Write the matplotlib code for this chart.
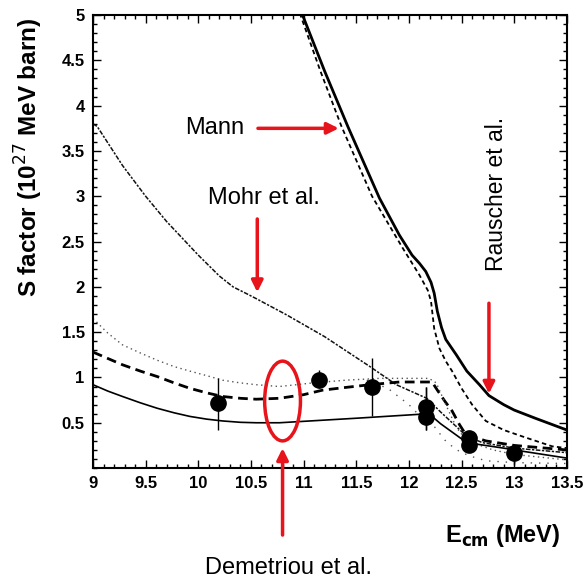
import matplotlib
matplotlib.use("Agg")
import matplotlib.pyplot as plt
from matplotlib.patches import Ellipse
from matplotlib.ticker import MultipleLocator

plt.rcParams["font.family"] = ["Liberation Sans", "DejaVu Sans"]

# ---- theory curves (E in MeV, S in 1e27 MeV barn) ----
rau_e = [10.9, 10.99, 11.2, 11.42, 11.72, 11.91, 12.03, 12.1, 12.16, 12.21, 12.24, 12.27, 12.31, 12.35, 12.45, 12.55, 12.67, 12.76, 12.9, 13.0, 13.2, 13.5]
rau_s = [5.25, 5.0, 4.38, 3.77, 2.98, 2.57, 2.35, 2.26, 2.17, 2.05, 1.93, 1.73, 1.55, 1.42, 1.25, 1.07, 0.92, 0.80, 0.70, 0.64, 0.55, 0.42]

mann_e = [10.88, 10.97, 11.16, 11.36, 11.65, 11.94, 12.10, 12.18, 12.21, 12.24, 12.29, 12.35, 12.41, 12.5, 12.6, 12.73, 12.9, 13.1, 13.36, 13.5]
mann_s = [5.25, 5.0, 4.38, 3.77, 3.0, 2.43, 2.13, 1.96, 1.84, 1.54, 1.32, 1.18, 1.07, 0.88, 0.70, 0.52, 0.42, 0.34, 0.24, 0.22]

mohr_e = [9.0, 9.04, 9.28, 9.5, 9.7, 10.0, 10.2, 10.33, 10.45, 10.55, 10.84, 11.2, 11.63, 11.88, 12.17, 12.3, 12.55, 12.7, 13.0, 13.5]
mohr_s = [3.8, 3.77, 3.34, 3.0, 2.72, 2.35, 2.12, 2.0, 1.93, 1.87, 1.69, 1.45, 1.12, 0.92, 0.77, 0.62, 0.35, 0.28, 0.22, 0.17]

dem_e = [9.0, 9.14, 9.28, 9.45, 9.61, 9.77, 9.92, 10.08, 10.23, 10.4, 10.55, 10.77, 11.0, 11.18, 11.4, 11.63, 11.91, 12.22, 12.27, 12.34, 12.41, 12.48, 12.54, 12.73, 13.0, 13.5]
dem_s = [1.28, 1.21, 1.14, 1.07, 1.01, 0.94, 0.88, 0.83, 0.79, 0.77, 0.76, 0.77, 0.81, 0.86, 0.89, 0.92, 0.95, 0.95, 0.86, 0.74, 0.63, 0.48, 0.37, 0.30, 0.25, 0.20]

dot_e = [9.0, 9.14, 9.28, 9.45, 9.61, 9.77, 9.92, 10.08, 10.23, 10.4, 10.55, 10.77, 11.09, 11.4, 11.72, 12.19, 12.26, 12.35, 12.45, 12.55, 12.8, 13.0, 13.5]
dot_s = [1.65, 1.49, 1.36, 1.27, 1.19, 1.12, 1.07, 1.02, 0.97, 0.94, 0.92, 0.90, 0.94, 0.97, 0.99, 0.99, 0.94, 0.70, 0.45, 0.30, 0.20, 0.15, 0.09]

dot2_e = [11.6, 11.8, 12.0, 12.15, 12.24, 12.34, 12.43, 12.5, 12.64, 12.74, 13.0, 13.5]
dot2_s = [0.97, 0.88, 0.70, 0.52, 0.46, 0.31, 0.22, 0.17, 0.11, 0.08, 0.06, 0.05]

sol_e = [9.0, 9.14, 9.28, 9.45, 9.61, 9.77, 9.92, 10.08, 10.23, 10.4, 10.55, 10.77, 11.5, 12.19, 12.3, 12.55, 12.9, 13.0, 13.5]
sol_s = [0.92, 0.85, 0.79, 0.72, 0.66, 0.61, 0.57, 0.54, 0.52, 0.505, 0.50, 0.50, 0.55, 0.60, 0.49, 0.28, 0.22, 0.20, 0.11]

# ---- data points ----
pt_e = [10.19, 11.15, 11.65, 12.16, 12.16, 12.57, 12.57, 13.0]
pt_s = [0.72, 0.97, 0.89, 0.67, 0.56, 0.33, 0.26, 0.17]
pt_lo = [0.42, 0.88, 0.57, 0.42, 0.42, 0.20, 0.20, 0.03]
pt_hi = [0.99, 1.08, 1.21, 0.90, 0.90, 0.38, 0.38, 0.20]

fig = plt.figure(figsize=(5.85, 5.80), dpi=100)
ax = fig.add_axes([0.159, 0.193, 0.81, 0.781])

ax.plot(rau_e, rau_s, color="black", lw=2.0)
ax.plot(mann_e, mann_s, color="black", lw=1.3, ls=(0, (2.5, 1.8)))
ax.plot(mohr_e, mohr_s, color="#111111", lw=1.1, ls=(0, (3, 1, 1.5, 1)))
ax.plot(dem_e, dem_s, color="black", lw=2.0, ls=(0, (3.5, 2)))
ax.plot(dot_e, dot_s, color="#555555", lw=1.0, ls=(0, (1, 2.5)))
ax.plot(dot2_e, dot2_s, color="#555555", lw=1.0, ls=(0, (1, 5)))
ax.plot(sol_e, sol_s, color="black", lw=1.2)

err_lo = [s - lo for s, lo in zip(pt_s, pt_lo)]
err_hi = [hi - s for s, hi in zip(pt_s, pt_hi)]
ax.errorbar(pt_e, pt_s, yerr=[err_lo, err_hi], fmt="o", color="black",
            ms=11, elinewidth=1.0, capsize=0, zorder=5)

ax.set_xlim(9, 13.5)
ax.set_ylim(0, 5)
ax.xaxis.set_minor_locator(MultipleLocator(0.1))
ax.yaxis.set_minor_locator(MultipleLocator(0.1))
ax.set_yticks([0.5, 1, 1.5, 2, 2.5, 3, 3.5, 4, 4.5, 5])
ax.set_yticklabels(["0.5", "1", "1.5", "2", "2.5", "3", "3.5", "4", "4.5", "5"])
ax.set_xticks([9, 9.5, 10, 10.5, 11, 11.5, 12, 12.5, 13, 13.5])
ax.set_xticklabels(["9", "9.5", "10", "10.5", "11", "11.5", "12", "12.5", "13", "13.5"])
ax.tick_params(which="both", direction="in", top=True, right=True, width=1.0)
ax.tick_params(which="major", length=6, labelsize=12, pad=6)
ax.tick_params(which="minor", length=3)
for lbl in ax.get_xticklabels() + ax.get_yticklabels():
    lbl.set_fontweight("bold")
for sp in ax.spines.values():
    sp.set_linewidth(1.5)

ax.set_ylabel("S factor (10$^{27}$ MeV barn)", fontsize=17.5, fontweight="bold")
ax.yaxis.set_label_coords(-0.102, 0.685)
ax.set_xlabel(r"E$_{\mathbf{cm}}$ (MeV)", fontsize=17, fontweight="bold")
ax.xaxis.set_label_coords(0.865, -0.12)

red = "#e8141b"
arrow = dict(arrowstyle="-|>", color=red, lw=2.5, mutation_scale=17)

ax.text(10.44, 3.75, "Mann", fontsize=17, ha="right", va="center")
ax.annotate("", xy=(11.36, 3.75), xytext=(10.54, 3.75), arrowprops=arrow)

ax.text(10.62, 2.98, "Mohr et al.", fontsize=17, ha="center", va="center")
ax.annotate("", xy=(10.56, 1.91), xytext=(10.56, 2.78), arrowprops=arrow)

ax.text(12.83, 3.03, "Rauscher et al.", fontsize=16.5, ha="center", va="center", rotation=90)
ax.annotate("", xy=(12.76, 0.79), xytext=(12.76, 1.85), arrowprops=arrow)

ax.add_patch(Ellipse((10.8, 0.74), 0.34, 0.88, fill=False, ec=red, lw=2.5, zorder=6))
ax.annotate("", xy=(10.8, 0.25), xytext=(10.8, -0.77), arrowprops=arrow,
            annotation_clip=False)
ax.text(10.86, -1.1, "Demetriou et al.", fontsize=17, ha="center", va="center",
        clip_on=False)

fig.savefig("out.png", dpi=100)
